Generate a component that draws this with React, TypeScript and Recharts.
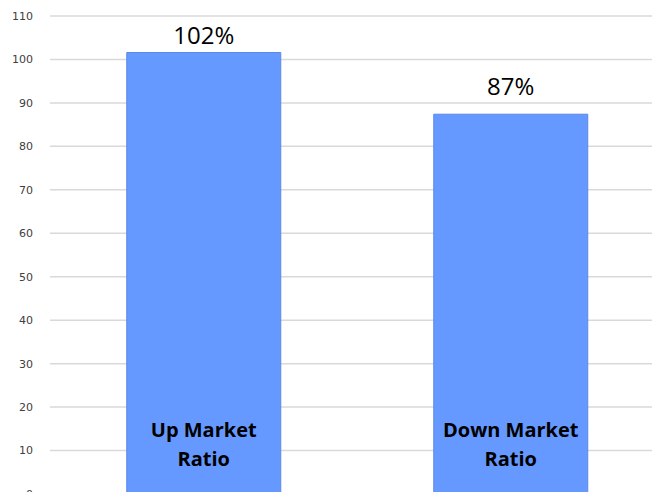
import { Bar, BarChart, CartesianGrid, LabelList, XAxis, YAxis } from "recharts";

const categories = ["Up Market Ratio", "Down Market Ratio"];
const ratios = [101.6, 87.4];
const yTicks = [0, 10, 20, 30, 40, 50, 60, 70, 80, 90, 100, 110];

const data = categories.map((name, i) => ({ name, ratio: ratios[i] }));

// the value labels sit at slightly different heights over each bar
const topGaps = [9, 19];

const renderTop = (props: any) => {
  const { x, y, width, value, index } = props;
  return (
    <text
      x={x + width / 2}
      y={y - topGaps[index]}
      textAnchor="middle"
      fontFamily="'Open Sans', sans-serif"
      fontSize={24}
      fill="#000"
    >
      {`${Math.round(Number(value))}%`}
    </text>
  );
};

const renderInside = (props: any) => {
  const { x, y, width, height, value } = props;
  const text = String(value);
  const cut = text.lastIndexOf(" ");
  const cx = x + width / 2;
  const bottom = y + height;
  return (
    <text
      textAnchor="middle"
      fontFamily="'Open Sans', sans-serif"
      fontWeight="bold"
      fontSize={20}
      fill="#000"
    >
      <tspan x={cx} y={bottom - 57}>{text.slice(0, cut)}</tspan>
      <tspan x={cx} y={bottom - 28}>{text.slice(cut + 1)}</tspan>
    </text>
  );
};

export default function App() {
  return (
    <div
      style={{
        position: "fixed",
        top: 0,
        left: 0,
        width: 652,
        height: 492,
        overflow: "hidden",
        background: "#fff",
      }}
    >
      <BarChart
        width={664}
        height={500}
        data={data}
        margin={{ top: 16, right: 0, bottom: 6, left: 0 }}
        barCategoryGap="25%"
      >
        <CartesianGrid vertical={false} stroke="#d9d9d9" strokeWidth={1.5} />
        <XAxis dataKey="name" hide />
        <YAxis
          width={50}
          domain={[0, 110]}
          ticks={yTicks}
          interval={0}
          axisLine={false}
          tickLine={false}
          tickSize={0}
          tickMargin={17}
          tick={{ fontSize: 11, fill: "#404040", fontFamily: "'DejaVu Sans', sans-serif" }}
        />
        <Bar dataKey="ratio" fill="#6699ff" stroke="#5b89e6" isAnimationActive={false}>
          <LabelList dataKey="ratio" content={renderTop} />
          <LabelList dataKey="name" content={renderInside} />
        </Bar>
      </BarChart>
    </div>
  );
}
